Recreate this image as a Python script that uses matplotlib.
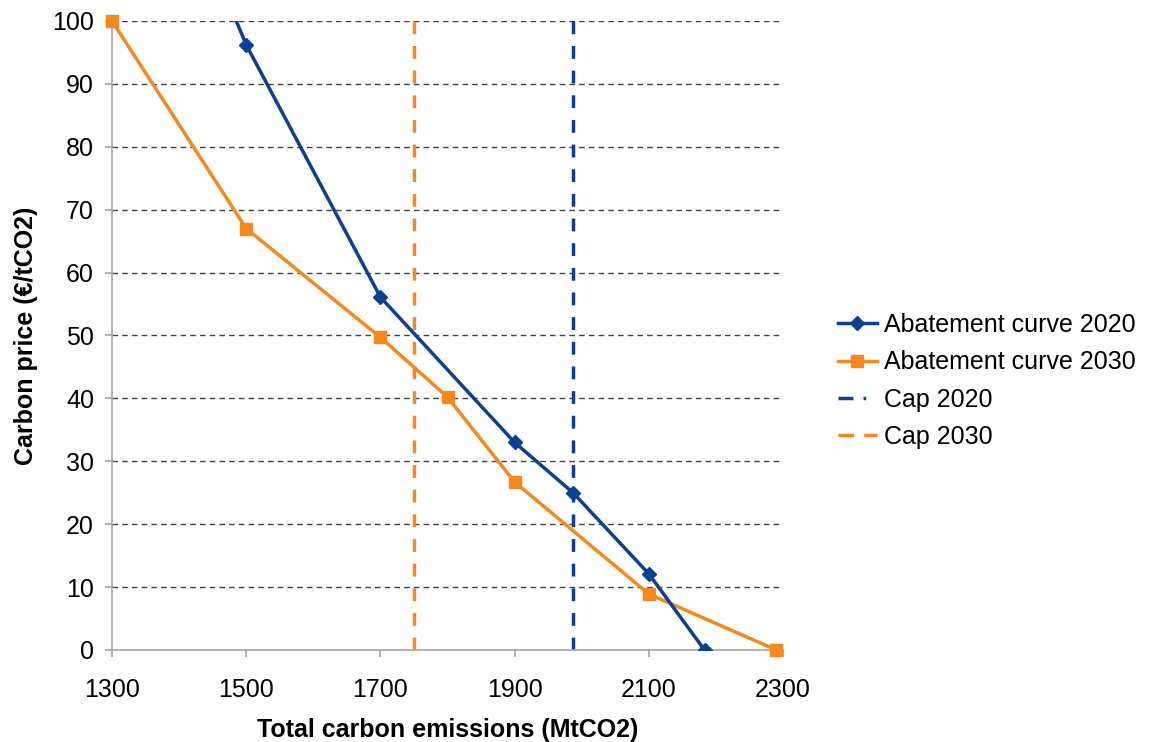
import matplotlib
matplotlib.use("Agg")
import matplotlib.pyplot as plt
from matplotlib.lines import Line2D

plt.rcParams['font.family'] = ['Liberation Sans', 'DejaVu Sans']

# Abatement curves (emissions in MtCO2, price in EUR/tCO2)
emis_2020 = [1450, 1500, 1700, 1900, 1987, 2100, 2183]
price_2020 = [109, 96.2, 56.1, 33.0, 25.0, 12.1, 0]
emis_2030 = [1300, 1500, 1700, 1800, 1900, 2100, 2290]
price_2030 = [100, 67.0, 49.7, 40.2, 26.7, 8.9, 0]
cap_2020 = 1987
cap_2030 = 1750

x_ticks = [1300, 1500, 1700, 1900, 2100, 2300]
y_ticks = list(range(0, 101, 10))

blue = '#0B3F8F'
orange = '#F5891F'
axis_grey = '#A6A6A6'
cap_dash = (0, (3.7, 3.4))

fig = plt.figure(figsize=(11.49, 7.42), dpi=100)
ax = fig.add_axes([0.0975, 0.124, 0.584, 0.8477])

ax.set_xlim(1300, 2300)
ax.set_ylim(0, 100)

for y in y_ticks[1:]:
    ax.axhline(y, color='#404040', lw=1.0, ls=(0, (4, 3)), zorder=1)

ax.plot(emis_2020, price_2020, color=blue, lw=2.5, marker='D', ms=7.5,
        label='Abatement curve 2020', zorder=4, clip_on=True)
ax.plot(emis_2030, price_2030, color=orange, lw=2.5, marker='s', ms=8.5,
        label='Abatement curve 2030', zorder=3, clip_on=False)
ax.axvline(cap_2020, color=blue, lw=2.5, ls=cap_dash, zorder=2)
ax.axvline(cap_2030, color=orange, lw=2.5, ls=cap_dash, zorder=2)

ax.set_xticks(x_ticks)
ax.set_yticks(y_ticks)
ax.tick_params(axis='both', labelsize=18, color=axis_grey, length=5, width=1.2,
               direction='out')
ax.tick_params(axis='y', pad=8)
ax.tick_params(axis='x', pad=15)
for s in ['top', 'right']:
    ax.spines[s].set_visible(False)
for s in ['left', 'bottom']:
    ax.spines[s].set_color(axis_grey)
    ax.spines[s].set_linewidth(1.2)

ax.set_xlabel('Total carbon emissions (MtCO2)', fontsize=18, fontweight='bold', labelpad=12)
ax.set_ylabel('Carbon price (€/tCO2)', fontsize=18, fontweight='bold', labelpad=10)

handles = [
    Line2D([], [], color=blue, lw=2.5, marker='D', ms=7.5),
    Line2D([], [], color=orange, lw=2.5, marker='s', ms=8.5),
    Line2D([], [], color=blue, lw=2.5, ls=(0, (4.3, 2.9, 0.8, 6))),
    Line2D([], [], color=orange, lw=2.5, ls=(0, (4.5, 2.9))),
]
labels = ['Abatement curve 2020', 'Abatement curve 2030', 'Cap 2020', 'Cap 2030']
fig.legend(handles, labels, loc='center left', bbox_to_anchor=(0.7206, 0.4865),
           frameon=False, fontsize=18, handlelength=1.55, handletextpad=0.3,
           labelspacing=0.53, borderaxespad=0)

fig.savefig('out.png', dpi=100)
